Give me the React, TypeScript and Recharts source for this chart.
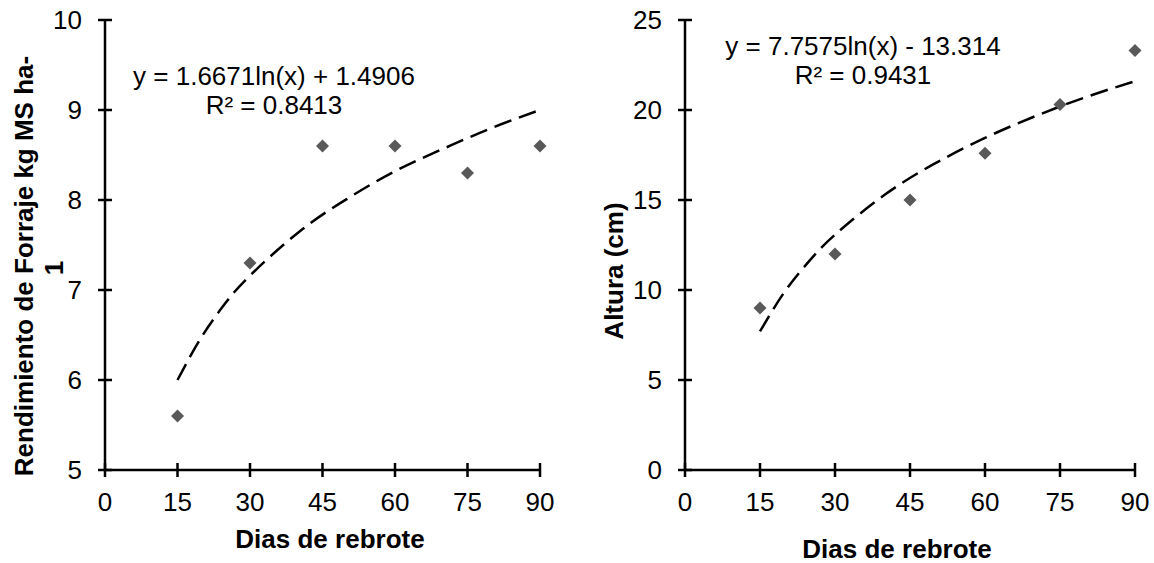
import { ComposedChart, Line, Scatter, XAxis, YAxis } from 'recharts';

const dias = [15, 30, 45, 60, 75, 90];
const rendimiento = [5.6, 7.3, 8.6, 8.6, 8.3, 8.6];
const altura = [9, 12, 15, 17.6, 20.3, 23.3];

// dashed log trend lines
const trendDias = [15, 20, 25, 30, 40, 50, 60, 70, 80, 90];
const trendRendimiento = [6.0, 6.48, 6.86, 7.16, 7.64, 8.01, 8.32, 8.57, 8.8, 9.0];
const trendAltura = [7.7, 9.93, 11.66, 13.07, 15.3, 17.03, 18.45, 19.65, 20.7, 21.6];

const xTicks = [0, 15, 30, 45, 60, 75, 90];
const yTicksLeft = [5, 6, 7, 8, 9, 10];
const yTicksRight = [0, 5, 10, 15, 20, 25];

const FONT = '"Liberation Sans", Arial, sans-serif';

const pointsLeft = dias.map((x, i) => ({ x, y: rendimiento[i] }));
const pointsRight = dias.map((x, i) => ({ x, y: altura[i] }));
const trendLeft = trendDias.map((x, i) => ({ x, y: trendRendimiento[i] }));
const trendRight = trendDias.map((x, i) => ({ x, y: trendAltura[i] }));

const Diamond = (props: any) => {
    const { cx, cy } = props;
    const r = 6.5;
    return (
        <polygon
            points={`${cx},${cy - r} ${cx + r},${cy} ${cx},${cy + r} ${cx - r},${cy}`}
            fill="#595959"
        />
    );
};

const XTick = (props: any) => {
    const { x, y, payload } = props;
    return (
        <g>
            <line x1={x} x2={x} y1={y - 7} y2={y + 7} stroke="#000" strokeWidth={2.5} />
            <text x={x} y={y + 41} textAnchor="middle" fontSize={26} fontFamily={FONT} fill="#000">
                {payload.value}
            </text>
        </g>
    );
};

const YTick = (props: any) => {
    const { x, y, payload } = props;
    return (
        <g>
            <line x1={x - 7} x2={x + 7} y1={y} y2={y} stroke="#000" strokeWidth={2.5} />
            <text x={x - 23} y={y + 9} textAnchor="end" fontSize={26} fontFamily={FONT} fill="#000">
                {payload.value}
            </text>
        </g>
    );
};

const axisLine = { stroke: '#000', strokeWidth: 2.5 };

const Panel = ({ points, trend, domain, ticks, margin }: any) => (
    <ComposedChart width={577} height={563} margin={margin}>
        <XAxis
            type="number"
            dataKey="x"
            domain={[0, 90]}
            ticks={xTicks}
            interval={0}
            height={30}
            axisLine={axisLine}
            tickLine={false}
            tickSize={0}
            tickMargin={0}
            tick={XTick}
        />
        <YAxis
            type="number"
            dataKey="y"
            domain={domain}
            ticks={ticks}
            interval={0}
            width={60}
            axisLine={axisLine}
            tickLine={false}
            tickSize={0}
            tickMargin={0}
            tick={YTick}
        />
        <Line
            data={trend}
            dataKey="y"
            type="natural"
            stroke="#000"
            strokeWidth={2.5}
            strokeDasharray="18 8"
            dot={false}
            activeDot={false}
            isAnimationActive={false}
        />
        <Scatter data={points} dataKey="y" shape={Diamond} isAnimationActive={false} />
    </ComposedChart>
);

export default function App() {
    return (
        <div style={{ position: 'absolute', left: 0, top: 0, width: 1154, height: 563, background: '#fff' }}>
            <div style={{ position: 'absolute', left: 0, top: 0 }}>
                <Panel
                    points={pointsLeft}
                    trend={trendLeft}
                    domain={[5, 10]}
                    ticks={yTicksLeft}
                    margin={{ top: 20, right: 37, bottom: 63, left: 45 }}
                />
            </div>
            <div style={{ position: 'absolute', left: 577, top: 0 }}>
                <Panel
                    points={pointsRight}
                    trend={trendRight}
                    domain={[0, 25]}
                    ticks={yTicksRight}
                    margin={{ top: 20, right: 19, bottom: 63, left: 48 }}
                />
            </div>
            <svg
                width={1154}
                height={563}
                style={{ position: 'absolute', left: 0, top: 0, pointerEvents: 'none' }}
                fontFamily={FONT}
                fill="#000"
            >
                <text x={274} y={85} textAnchor="middle" fontSize={26}>y = 1.6671ln(x) + 1.4906</text>
                <text x={274} y={114} textAnchor="middle" fontSize={26}>R² = 0.8413</text>
                <text x={863} y={55} textAnchor="middle" fontSize={26}>y = 7.7575ln(x) - 13.314</text>
                <text x={863} y={84} textAnchor="middle" fontSize={26}>R² = 0.9431</text>

                <text x={330} y={548} textAnchor="middle" fontSize={26} fontWeight="bold">Dias de rebrote</text>
                <text x={897} y={558} textAnchor="middle" fontSize={26} fontWeight="bold">Dias de rebrote</text>

                <text x={33} y={266} textAnchor="middle" fontSize={26} fontWeight="bold" transform="rotate(-90 33 266)">
                    Rendimiento de Forraje kg MS ha-
                </text>
                <text x={63} y={268} textAnchor="middle" fontSize={26} fontWeight="bold" transform="rotate(-90 63 268)">
                    1
                </text>
                <text x={623} y={271} textAnchor="middle" fontSize={26} fontWeight="bold" transform="rotate(-90 623 271)">
                    Altura (cm)
                </text>
            </svg>
        </div>
    );
}
